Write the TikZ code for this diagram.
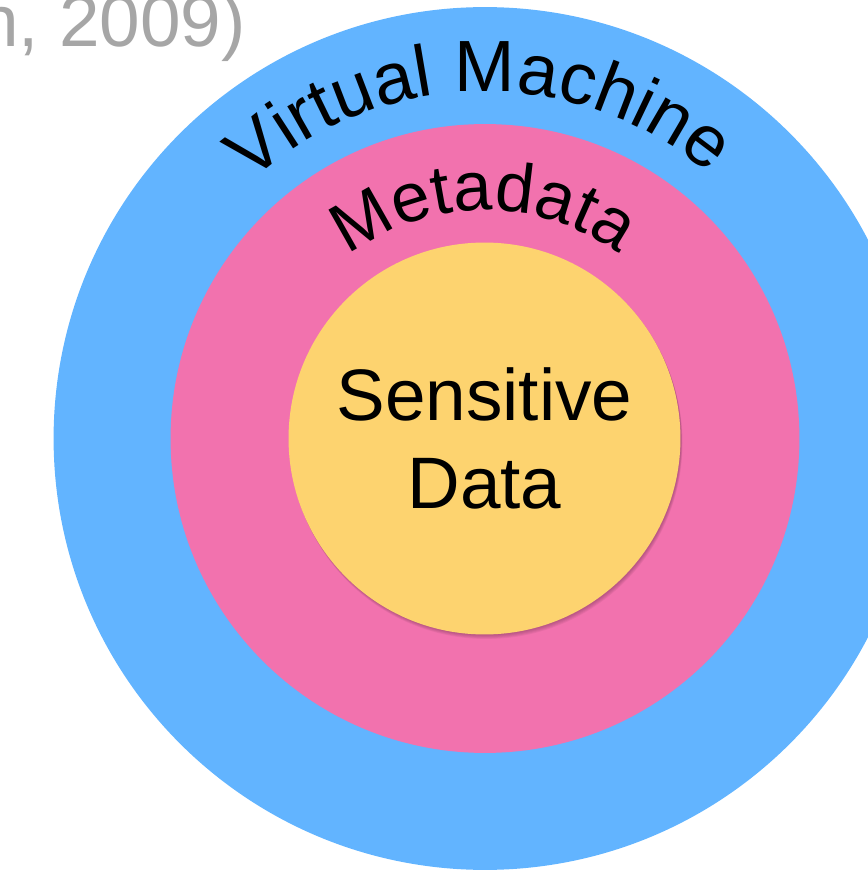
\documentclass[tikz,border=0pt]{standalone}
\usepackage{fontspec}
\setmainfont{Liberation Sans}
\usepackage{tikz}
\usetikzlibrary{decorations.text}

\definecolor{vmblue}{HTML}{62B4FF}
\definecolor{metapink}{HTML}{F272AE}
\definecolor{datayellow}{HTML}{FDD36F}
\definecolor{citegray}{HTML}{A6A6A6}

\tikzset{
    ring/.style={shape=circle, inner sep=0pt, outer sep=0pt},
    ringlabel/.style={decorate, decoration={text along path, text align=center}}
}

\begin{document}
\begin{tikzpicture}[x=0.02cm, y=0.02cm]
    		% Frame of the slide:
    		\useasboundingbox (0, 0) rectangle (867, 877);
    		\node[anchor=base east, text=citegray, font=\fontsize{41.5}{50}\selectfont](CITE) at (252, 830){n, 2009)};
    		% Rings:
    		\node[ring, fill=vmblue, minimum size=17.26cm](VM) at (485, 438.5){};
    		\node[ring, fill=metapink, minimum size=12.58cm](MD) at (485, 438.5){};
    		\foreach \k in {1,...,5}
    			\fill[black!70!metapink, opacity=0.07] ([shift={(0.3*\k, -0.9*\k)}]MD.center) circle (196);
    		\node[ring, fill=datayellow, minimum size=7.84cm, align=center, font=\fontsize{41.5}{50}\selectfont](SD) at (484.5, 438.5){Sensitive\\Data};
    		% Labels along the rings:
    		\path[ringlabel, decoration={text={|\fontsize{41.3}{49}\selectfont|Virtual Machine}}] ([shift={(140:347)}]VM.center) arc (140:42:347);
    		\path[ringlabel, decoration={text={|\fontsize{39.5}{47}\selectfont|Metadata}}] ([shift={(139:228)}]MD.center) arc (139:41.8:228);
    	\end{tikzpicture}
\end{document}
